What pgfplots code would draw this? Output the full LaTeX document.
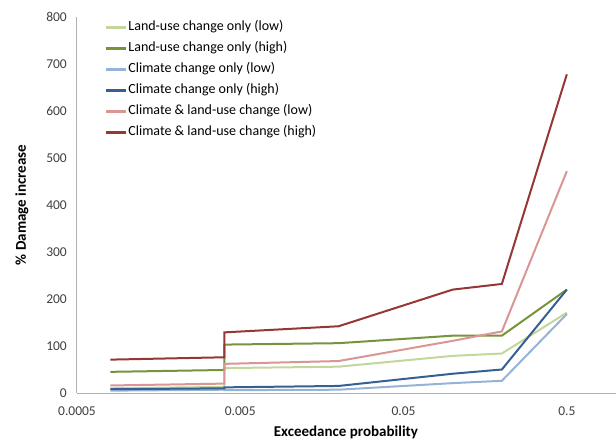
\documentclass[border=0pt]{standalone}
\usepackage{pgfplots}
\pgfplotsset{compat=1.18}
\usepackage{fontspec}
\setmainfont{Carlito}
\definecolor{lulow}{RGB}{195,214,155}
\definecolor{luhigh}{RGB}{119,147,60}
\definecolor{cclow}{RGB}{149,179,215}
\definecolor{cchigh}{RGB}{54,96,146}
\definecolor{cllow}{RGB}{217,150,148}
\definecolor{clhigh}{RGB}{149,55,53}
\definecolor{tickc}{RGB}{64,64,64}
\begin{document}
\begin{tikzpicture}
\useasboundingbox (-77bp,-46bp) rectangle (539bp,393bp);
\begin{axis}[
  scale only axis,
  width=539bp, height=376bp,
  xmode=log,
  xmin=0.0005, xmax=1,
  ymin=0, ymax=800,
  xtick={0.0005,0.005,0.05,0.5},
  xticklabels={0.0005,0.005,0.05,0.5},
  ytick={0,100,...,800},
  xminorticks=false,
  major tick length=0pt,
  minor tick length=0pt,
  axis x line*=bottom,
  axis y line*=left,
  axis line style={draw=black!30, line width=1bp, -},
  /pgf/number format/assume math mode=true,
  tick label style={font=\fontsize{13.5bp}{15bp}\selectfont, text=tickc, inner sep=0pt},
  xticklabel style={anchor=center, yshift=-18bp},
  yticklabel style={anchor=east, xshift=-10bp},
  every axis x label/.style={at={(axis description cs:0.499,0)}, yshift=-39bp, anchor=center, font=\fontsize{15bp}{17bp}\selectfont\bfseries},
  every axis y label/.style={at={(axis description cs:0,0.5)}, xshift=-55bp, rotate=90, anchor=center, font=\fontsize{15bp}{17bp}\selectfont\bfseries},
  xlabel={Exceedance probability},
  ylabel={\% Damage increase},
  legend style={at={(0.052,0.992)}, anchor=north west, draw=none, fill=none,
    font=\fontsize{14bp}{16bp}\selectfont, row sep=6.5bp, inner sep=0pt,
    nodes={inner sep=1bp, text height=9.5bp, text depth=3bp}},
  legend cell align=left,
  legend image code/.code={\draw[#1, line width=2.2bp] (0bp,0bp) -- (20bp,0bp);},
  every axis plot/.append style={line width=2bp, no markers},
  clip=false,
]
\addplot[lulow] coordinates {(0.0008,10) (0.004,13) (0.004,53) (0.02,56) (0.1,79) (0.2,84) (0.5,171)};
\addlegendentry{Land-use change only (low)}
\addplot[luhigh] coordinates {(0.0008,45) (0.004,49) (0.004,103) (0.02,106) (0.1,122) (0.2,122) (0.5,220)};
\addlegendentry{Land-use change only (high)}
\addplot[cclow] coordinates {(0.0008,5) (0.004,7) (0.004,6) (0.02,7) (0.1,21) (0.2,26) (0.5,168)};
\addlegendentry{Climate change only (low)}
\addplot[cchigh] coordinates {(0.0008,8) (0.004,10) (0.004,12) (0.02,15) (0.1,41) (0.2,50) (0.5,220)};
\addlegendentry{Climate change only (high)}
\addplot[cllow] coordinates {(0.0008,16) (0.004,20) (0.004,62) (0.02,68) (0.1,111) (0.2,131) (0.5,472)};
\addlegendentry{Climate \& land-use change (low)}
\addplot[clhigh] coordinates {(0.0008,71) (0.004,76) (0.004,129) (0.02,142) (0.1,220) (0.2,232) (0.5,678)};
\addlegendentry{Climate \& land-use change (high)}
\end{axis}
\end{tikzpicture}
\end{document}
